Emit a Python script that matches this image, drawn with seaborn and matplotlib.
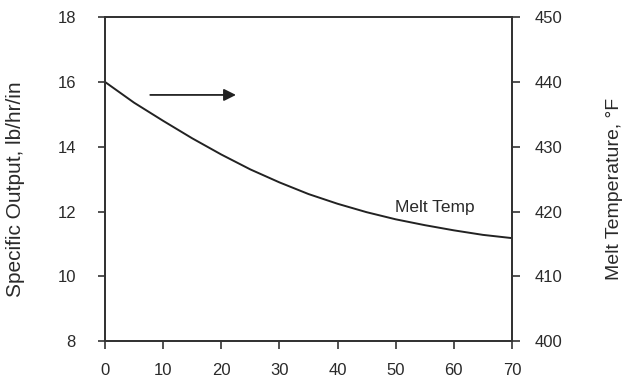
import matplotlib
matplotlib.use("Agg")
import matplotlib.pyplot as plt
import numpy as np
import pandas as pd
import seaborn as sns

# melt temperature curve
x_vals = [0, 5, 10, 15, 20, 25, 30, 35, 40, 45, 50, 55, 60, 65, 70]
melt_temp = [440.0, 436.8, 434.0, 431.3, 428.8, 426.5, 424.5, 422.7,
             421.2, 419.9, 418.8, 417.9, 417.1, 416.4, 415.9]
x_ticks = [0, 10, 20, 30, 40, 50, 60, 70]
left_ticks = [8, 10, 12, 14, 16, 18]
right_ticks = [400, 410, 420, 430, 440, 450]

df = pd.DataFrame({"x": x_vals, "temp": melt_temp})

sns.set_style("white")
plt.rcParams['font.family'] = ['Liberation Sans', 'DejaVu Sans']
txt = '#2a2a2a'

fig = plt.figure(figsize=(6.29, 3.82), dpi=100)
ax = fig.add_axes([0.167, 0.107, 0.647, 0.848])
ax2 = ax.twinx()

sns.lineplot(data=df, x="x", y="temp", ax=ax2, color='#222222', linewidth=1.4)

ax.set_xlim(0, 70)
ax.set_ylim(8, 18)
ax2.set_ylim(400, 450)
ax.set_xticks(x_ticks)
ax.set_yticks(left_ticks)
ax2.set_yticks(right_ticks)

for a in (ax, ax2):
    for s in a.spines.values():
        s.set_visible(True)
        s.set_color('#333333')
        s.set_linewidth(1.3)

ax.tick_params(axis='x', direction='out', length=6, width=1.2, pad=10,
               labelsize=12, colors='#333333', labelcolor=txt, bottom=True)
ax.tick_params(axis='y', direction='out', length=5, width=1.2, pad=16,
               labelsize=12, colors='#333333', labelcolor=txt, left=True)
ax2.tick_params(axis='y', direction='out', length=6, width=1.2, pad=10,
                labelsize=12, colors='#333333', labelcolor=txt, right=True)

ax.set_xlabel('')
ax.set_ylabel('Specific Output, lb/hr/in', fontsize=15, color=txt)
ax2.set_ylabel('Melt Temperature, °F', fontsize=14, color=txt)
ax.yaxis.set_label_coords(-0.197, 0.47)
ax2.yaxis.set_label_coords(1.232, 0.47)

ax2.text(56.8, 420.6, 'Melt Temp', fontsize=12.5, color=txt,
         ha='center', va='center')
ax2.annotate('', xy=(23, 438.0), xytext=(7.3, 438.0),
             arrowprops=dict(arrowstyle='-|>', color='#222222', lw=1.3,
                             mutation_scale=18))

fig.savefig('out.png', dpi=100)
